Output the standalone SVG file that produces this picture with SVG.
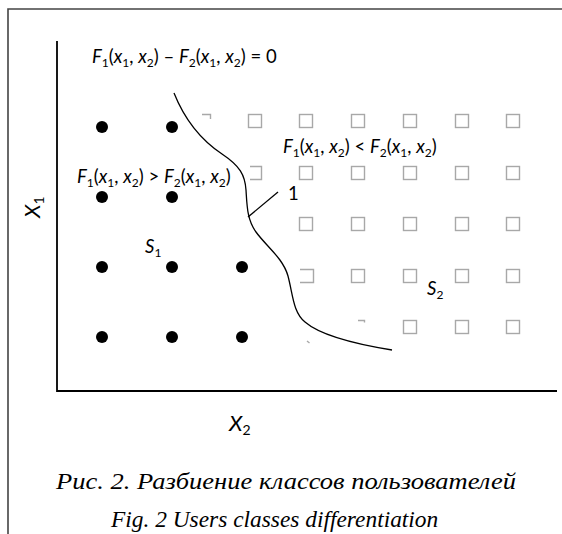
<svg xmlns="http://www.w3.org/2000/svg" width="562" height="534" viewBox="0 0 562 534">
  <style>
    .frame { fill: none; stroke: #444; stroke-width: 1.6; }
    .axis { fill: none; stroke: #000; stroke-width: 1.8; }
    .dot { fill: #000; }
    .sq { fill: #fff; stroke: #a8a8a8; stroke-width: 1.4; }
    .sqp { fill: none; stroke: #a8a8a8; stroke-width: 1.4; }
    .curve { fill: none; stroke: #000; stroke-width: 1.3; }
    .math { font-family: Lato, "Liberation Sans", sans-serif; font-size: 18.5px; fill: #000; }
    .it { font-style: italic; }
    .sub { font-size: 12px; }
    .axlab { font-family: Lato, "Liberation Sans", sans-serif; font-size: 22px; font-style: italic; fill: #000; }
    .cap { font-family: "Liberation Serif", serif; font-size: 23.4px; font-style: italic; fill: #000; }
  </style>
  <defs>
    <rect id="box" class="sq" x="-6.5" y="-6.5" width="13" height="13"/>
    <circle id="pt" class="dot" r="6"/>
  </defs>

  <!-- outer frame -->
  <path class="frame" d="M8,534 V9 H562"/>

  <!-- axes -->
  <g id="axes">
    <path class="axis" d="M57,41 V391 H557"/>
  </g>

  <!-- class S1 points -->
  <g id="class-s1">
    <use href="#pt" x="102" y="127"/>
    <use href="#pt" x="172" y="127"/>
    <use href="#pt" x="102" y="197"/>
    <use href="#pt" x="172" y="197"/>
    <use href="#pt" x="102" y="267"/>
    <use href="#pt" x="172" y="267"/>
    <use href="#pt" x="242" y="267"/>
    <use href="#pt" x="102" y="337"/>
    <use href="#pt" x="172" y="337"/>
    <use href="#pt" x="242" y="337"/>
  </g>

  <!-- class S2 points -->
  <g id="class-s2">
    <!-- row 1 -->
    <path class="sqp" d="M202,114.5 H210.5 V119"/>
    <use href="#box" x="255" y="121"/>
    <use href="#box" x="306" y="121"/>
    <use href="#box" x="358" y="121"/>
    <use href="#box" x="410" y="121"/>
    <use href="#box" x="462" y="121"/>
    <use href="#box" x="513" y="121"/>
    <!-- row 2 -->
    <path class="sqp" d="M250,166.5 H261.5 V179.5 H250"/>
    <use href="#box" x="306" y="173"/>
    <use href="#box" x="358" y="173"/>
    <use href="#box" x="410" y="173"/>
    <use href="#box" x="462" y="173"/>
    <use href="#box" x="513" y="173"/>
    <!-- row 3 -->
    <use href="#box" x="306" y="224"/>
    <use href="#box" x="358" y="224"/>
    <use href="#box" x="410" y="224"/>
    <use href="#box" x="462" y="224"/>
    <use href="#box" x="513" y="224"/>
    <!-- row 4 -->
    <path class="sqp" d="M300,269.5 H313.5 V282.5 H300"/>
    <use href="#box" x="358" y="276"/>
    <use href="#box" x="410" y="276"/>
    <use href="#box" x="462" y="276"/>
    <use href="#box" x="513" y="276"/>
    <!-- row 5 -->
    <path class="sqp" d="M358,320.5 H364.5 V322.5"/>
    <path class="sqp" d="M307,341 L309.5,343"/>
    <use href="#box" x="410" y="327"/>
    <use href="#box" x="462" y="327"/>
    <use href="#box" x="513" y="327"/>
  </g>

  <!-- separating boundary and its leader -->
  <g id="connectors">
    <path id="boundary" class="curve" d="M174,93 C184,118 198,138 222,154 C240,166 245,175 246,190 C247,205 247,220 256,232 C266,246 283,258 288,276 C293,295 293,312 305,322 C320,335 355,344 392,350"/>
    <path id="leader-1" class="curve" d="M248,217 L278,192"/>
  </g>

  <!-- labels -->
  <g id="label-boundary">
    <text class="math" x="92" y="63"><tspan class="it">F</tspan><tspan class="sub" dy="3.5">1</tspan><tspan dy="-3.5">(</tspan><tspan class="it">x</tspan><tspan class="sub" dy="3.5">1</tspan><tspan dy="-3.5">, </tspan><tspan class="it">x</tspan><tspan class="sub" dy="3.5">2</tspan><tspan dy="-3.5">) – </tspan><tspan class="it">F</tspan><tspan class="sub" dy="3.5">2</tspan><tspan dy="-3.5">(</tspan><tspan class="it">x</tspan><tspan class="sub" dy="3.5">1</tspan><tspan dy="-3.5">, </tspan><tspan class="it">x</tspan><tspan class="sub" dy="3.5">2</tspan><tspan dy="-3.5">) = 0</tspan></text>
  </g>
  <g id="label-s1-rule">
    <text class="math" x="77" y="183"><tspan class="it">F</tspan><tspan class="sub" dy="3.5">1</tspan><tspan dy="-3.5">(</tspan><tspan class="it">x</tspan><tspan class="sub" dy="3.5">1</tspan><tspan dy="-3.5">, </tspan><tspan class="it">x</tspan><tspan class="sub" dy="3.5">2</tspan><tspan dy="-3.5">) &gt; </tspan><tspan class="it">F</tspan><tspan class="sub" dy="3.5">2</tspan><tspan dy="-3.5">(</tspan><tspan class="it">x</tspan><tspan class="sub" dy="3.5">1</tspan><tspan dy="-3.5">, </tspan><tspan class="it">x</tspan><tspan class="sub" dy="3.5">2</tspan><tspan dy="-3.5">)</tspan></text>
  </g>
  <g id="label-s2-rule">
    <text class="math" x="283" y="153"><tspan class="it">F</tspan><tspan class="sub" dy="3.5">1</tspan><tspan dy="-3.5">(</tspan><tspan class="it">x</tspan><tspan class="sub" dy="3.5">1</tspan><tspan dy="-3.5">, </tspan><tspan class="it">x</tspan><tspan class="sub" dy="3.5">2</tspan><tspan dy="-3.5">) &lt; </tspan><tspan class="it">F</tspan><tspan class="sub" dy="3.5">2</tspan><tspan dy="-3.5">(</tspan><tspan class="it">x</tspan><tspan class="sub" dy="3.5">1</tspan><tspan dy="-3.5">, </tspan><tspan class="it">x</tspan><tspan class="sub" dy="3.5">2</tspan><tspan dy="-3.5">)</tspan></text>
  </g>
  <g id="label-1">
    <text class="math" x="288" y="200">1</text>
  </g>
  <g id="label-s1">
    <text class="math" x="145" y="253"><tspan class="it">S</tspan><tspan class="sub" dy="3.5">1</tspan></text>
  </g>
  <g id="label-s2">
    <text class="math" x="427" y="295"><tspan class="it">S</tspan><tspan class="sub" dy="3.5">2</tspan></text>
  </g>
  <g id="axis-x1">
    <text class="axlab" transform="translate(40,218) rotate(-90)">X<tspan font-size="14" font-style="normal" dy="4">1</tspan></text>
  </g>
  <g id="axis-x2">
    <text class="axlab" x="229" y="431">X<tspan font-size="14" font-style="normal" dy="4">2</tspan></text>
  </g>

  <!-- caption -->
  <g id="caption">
    <text class="cap" x="56" y="489" font-size="22.5" textLength="460" lengthAdjust="spacingAndGlyphs">Рис. 2. Разбиение классов пользователей</text>
    <text class="cap" x="111" y="527">Fig. 2 Users classes differentiation</text>
  </g>
</svg>
